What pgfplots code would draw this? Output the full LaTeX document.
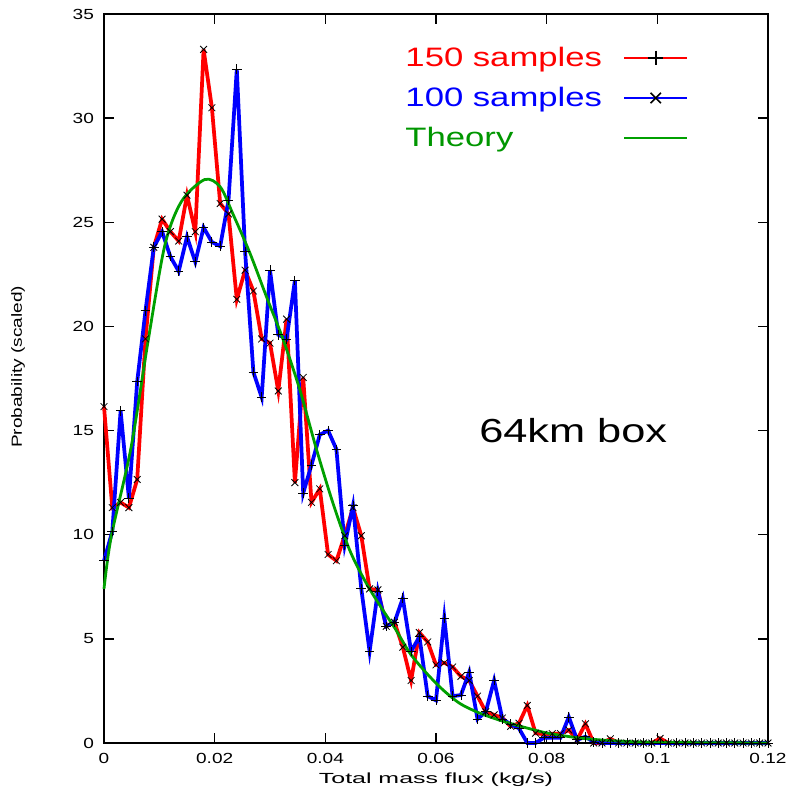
\documentclass[border=0pt]{standalone}
\usepackage{fontspec}
\setmainfont[FakeStretch=1.3]{Liberation Sans}
\newfontfamily\widefont[FakeStretch=1.7]{Liberation Sans}
\usepackage{pgfplots}
\pgfplotsset{compat=1.18}
\usepackage{pgfplotstable}
\definecolor{gpred}{RGB}{255,0,0}
\definecolor{gpblue}{RGB}{0,0,255}
\definecolor{gpgreen}{RGB}{0,160,0}
\definecolor{gptext}{RGB}{0,150,0}

\pgfplotstableread{
x r b
0 16.15 8.75
0.0015 11.3 10.15
0.003 11.55 15.95
0.0045 11.3 11.75
0.006 12.65 17.35
0.0075 19.4 20.75
0.009 23.8 23.8
0.0105 25.15 24.55
0.012 24.55 23.35
0.0135 24.1 22.65
0.015 26.3 24.3
0.0165 24.55 23.1
0.018 33.3 24.75
0.0195 30.5 24.05
0.021 25.9 23.85
0.0225 25.4 26.05
0.024 21.3 32.35
0.0255 22.7 23.6
0.027 21.7 17.8
0.0285 19.4 16.6
0.03 19.2 22.7
0.0315 16.9 19.6
0.033 20.35 19.4
0.0345 12.5 22.2
0.036 17.55 12.0
0.0375 11.55 13.35
0.039 12.2 14.8
0.0405 9.05 15.0
0.042 8.75 14.1
0.0435 9.95 9.5
0.045 11.3 11.4
0.0465 9.95 7.4
0.048 7.4 4.4
0.0495 7.35 7.3
0.051 5.6 5.6
0.0525 5.8 5.8
0.054 4.6 6.95
0.0555 3.0 4.4
0.057 5.3 5.1
0.0585 4.85 2.25
0.06 3.75 2.05
0.0615 3.85 6.0
0.063 3.65 2.25
0.0645 3.2 2.3
0.066 3.0 3.4
0.0675 2.25 1.15
0.069 1.5 1.5
0.0705 1.35 3.0
0.072 1.2 1.15
0.0735 0.8 0.9
0.075 0.95 0.7
0.0765 1.8 0.0
0.078 0.47 0.0
0.0795 0.42 0.25
0.081 0.45 0.25
0.0825 0.45 0.25
0.084 0.62 1.25
0.0855 0.15 0.15
0.087 0.92 0.3
0.0885 0.0 0.05
0.09 0.0 0.0
0.0915 0.2 0.0
0.093 0.0 0.0
0.0945 0.0 0.0
0.096 0.0 0.0
0.0975 0.0 0.0
0.099 0.0 0.0
0.1005 0.22 0.0
0.102 0.0 0.0
0.1035 0.0 0.0
0.105 0.0 0.0
0.1065 0.0 0.0
0.108 0.0 0.0
0.1095 0.0 0.0
0.111 0.0 0.0
0.1125 0.0 0.0
0.114 0.0 0.0
0.1155 0.0 0.0
0.117 0.0 0.0
0.1185 0.0 0.0
0.12 0.0 0.0
}\samples

\pgfplotstableread{
x y
0 7.4
0.0013 9.9
0.0049 14.2
0.0080 19.35
0.0110 23.9
0.0140 26.0
0.0182 27.05
0.0210 26.7
0.0233 25.4
0.0264 23.5
0.0294 21.4
0.0324 19.35
0.0354 16.95
0.0384 14.1
0.0414 11.5
0.0444 9.26
0.0474 7.67
0.0504 6.38
0.0526 5.5
0.0553 4.31
0.0583 3.35
0.0613 2.54
0.0643 1.9
0.0673 1.5
0.0703 1.2
0.0733 0.95
0.0770 0.68
0.0806 0.45
0.0866 0.22
0.0926 0.1
0.1 0.03
0.12 0.0
}\theory

\begin{document}
\begin{tikzpicture}
\begin{axis}[
  scale only axis,
  width=498pt, height=546.75pt,
  xmin=0, xmax=0.12, ymin=0, ymax=35,
  clip=false,
  xtick={0,0.02,0.04,0.06,0.08,0.1,0.12},
  xticklabels={0,0.02,0.04,0.06,0.08,0.1,0.12},
  ytick={0,5,10,15,20,25,30,35},
  yticklabels={0,5,10,15,20,25,30,35},
  tick align=inside,
  major tick length=7.5pt,
  xtick pos=both, ytick pos=both,
  axis line style={line width=1.4pt, black},
  every tick/.style={black, line width=1pt},
  tick label style={font=\fontsize{11}{13}\selectfont},
  xticklabel style={yshift=-4pt},
  yticklabel style={xshift=-4pt},
  /pgf/number format/assume math mode=true,
  xlabel={Total mass flux (kg/s)},
  ylabel={Probability (scaled)},
  xlabel style={at={(axis description cs:0.5,-0.05)}, anchor=center, font=\widefont\fontsize{11}{13}\selectfont},
  ylabel style={at={(axis description cs:-0.1295,0.516)}, anchor=center, font=\fontsize{11}{13}\selectfont},
  legend plot pos=right,
  legend cell align=left,
  legend style={draw=none, fill=none, at={(axis description cs:0.886,0.962)}, anchor=north east,
    font=\fontsize{20}{24}\selectfont, row sep=10pt,
    /tikz/every odd column/.append style={column sep=14pt}},
  legend image code/.code={\draw[#1, mark repeat=2, mark phase=2] plot coordinates {(0pt,0pt) (23.5pt,0pt) (47pt,0pt)};},
]
\coordinate (SW) at (rel axis cs:0,0);
\coordinate (NE) at (rel axis cs:1,1);

\addplot[gpred, line width=2.8pt, mark=x, mark size=3.6pt, mark options={black, line width=0.6pt}, forget plot] table[x=x, y=r] {\samples};
\addplot[gpblue, line width=2.8pt, mark=+, mark size=3.6pt, mark options={black, line width=0.6pt}, forget plot] table[x=x, y=b] {\samples};
\addplot[gpgreen, line width=2.1pt, smooth, forget plot] table[x=x, y=y] {\theory};

\addlegendimage{gpred, line width=1.5pt, mark=+, mark size=5.5pt, mark options={black, line width=1.2pt}}
\addlegendentry{\textcolor{gpred}{150 samples}}
\addlegendimage{gpblue, line width=1.5pt, mark=x, mark size=5.5pt, mark options={black, line width=1.2pt}}
\addlegendentry{\textcolor{gpblue}{100 samples}}
\addlegendimage{gpgreen, line width=1.5pt}
\addlegendentry{\textcolor{gptext}{Theory}}

\node[font=\fontsize{25}{30}\selectfont] at (axis cs:0.0848,15) {64km box};
\end{axis}
\pgfresetboundingbox
\path ([shift={(-78pt,-36pt)}]SW) rectangle ([shift={(18.75pt,10.5pt)}]NE);
\end{tikzpicture}
\end{document}
